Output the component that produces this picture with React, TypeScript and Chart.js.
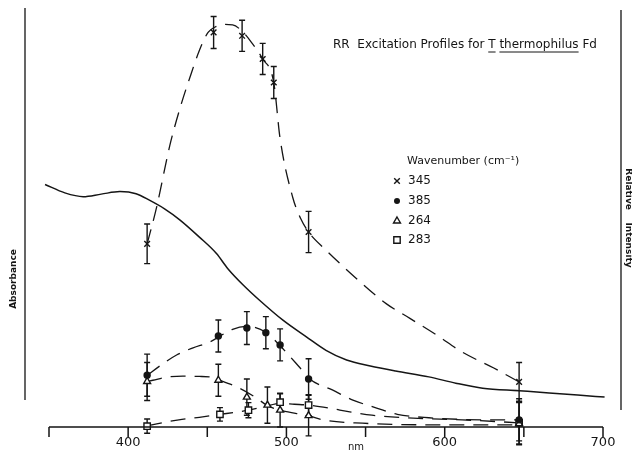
import React, { useEffect, useRef } from 'react';
import { Chart, registerables } from 'chart.js';
Chart.register(...registerables);

// ---- axis ----
const xTicks = [350, 400, 450, 500, 550, 600, 650, 700];
const xTickLabels = ['', '400', '', '500', '', '600', '', '700'];

// ---- legend ----
const wavenumbers = ['345', '385', '264', '283'];

// ---- measured points (excitation nm, relative intensity, error) ----
const exc345 = [412, 454, 472, 485, 492, 514, 647];
const int345 = [43.5, 93.7, 92.9, 87.4, 81.8, 46.3, 10.7];
const err345 = [4.7, 3.8, 3.7, 3.7, 3.8, 4.9, 4.6];

const exc385 = [412, 457, 475, 487, 496, 514, 647];
const int385 = [12.3, 21.6, 23.5, 22.4, 19.5, 11.4, 1.7];
const err385 = [5.0, 3.8, 3.9, 3.8, 3.8, 4.8, 5.0];

const exc264 = [412, 457, 475, 488, 496, 514, 647];
const int264 = [10.8, 11.1, 7.1, 5.2, 4.0, 2.7, 0.8];
const err264 = [4.5, 3.8, 4.3, 4.3, 4.0, 4.8, 5.0];

const exc283 = [412, 458, 476, 496, 514, 647];
const int283 = [0.2, 3.0, 4.0, 5.9, 5.2, 1.0];
const err283 = [1.7, 1.6, 1.8, 2.0, 2.5, 5.0];

// ---- absorbance spectrum (solid) ----
const absNm = [347.5, 360, 371.6, 383, 394.8, 405, 413.7, 423, 432.6, 445, 455.8, 463, 473, 483, 498, 512.6, 525, 538, 553, 569, 590, 607, 624, 647, 666, 684, 701];
const absVal = [57.6, 55.6, 54.7, 55.3, 55.9, 55.4, 53.8, 51.8, 49.2, 45.1, 41.2, 37.6, 33.6, 30.1, 25.3, 21.4, 18.2, 15.9, 14.5, 13.3, 11.9, 10.4, 9.2, 8.6, 8.1, 7.6, 7.1];

// ---- dashed profile fits ----
const fit345Nm = [412, 418, 426.3, 433, 439, 445.3, 450.5, 455, 460, 466, 472, 478, 485, 492, 496, 504, 509, 514, 525, 545, 563, 578, 595, 611, 631, 647];
const fit345Val = [43.5, 52.2, 66.8, 76, 83, 89.7, 93.7, 95, 95.6, 95.5, 94, 91.3, 87.4, 81.8, 68.5, 54.5, 49.5, 46.3, 42, 35, 29.3, 25.8, 21.8, 17.8, 14, 10.7];

const fit385Nm = [412.3, 420, 430.6, 441, 451.6, 466, 475, 487, 495.7, 508, 514.7, 529, 542, 557, 570, 590, 628, 647];
const fit385Val = [12.3, 14.5, 17.1, 18.8, 20.2, 23.2, 23.9, 22.5, 19.4, 14.3, 11.4, 8.8, 6.4, 4.5, 3.0, 2.2, 1.7, 1.7];

const fit264Nm = [412, 415.6, 425, 434.5, 445, 451.6, 458, 470.5, 481, 487.5, 495.7, 514, 523, 548, 603, 647];
const fit264Val = [10.8, 11.1, 11.9, 12.1, 12.0, 11.9, 11.1, 9.2, 6.9, 5.2, 4.0, 2.7, 1.7, 0.9, 0.5, 0.5];

const fit283Nm = [412, 415, 432, 445, 458, 468, 476, 486, 496, 505, 514, 527, 540, 554, 580, 611, 647];
const fit283Val = [0.2, 0.5, 1.7, 2.3, 3.0, 3.5, 4.0, 4.8, 5.6, 5.4, 5.2, 4.5, 3.6, 2.8, 2.1, 1.7, 1.0];

const INK = '#151515';

function pts(xs: number[], ys: number[]) {
  return xs.map((x, i) => ({ x, y: ys[i] }));
}

function drawSym(ctx: CanvasRenderingContext2D, kind: string, x: number, y: number) {
  ctx.save();
  ctx.strokeStyle = INK;
  ctx.fillStyle = INK;
  ctx.lineWidth = 1.4;
  ctx.beginPath();
  if (kind === 'x') {
    const r = 2.8;
    ctx.moveTo(x - r, y - r); ctx.lineTo(x + r, y + r);
    ctx.moveTo(x + r, y - r); ctx.lineTo(x - r, y + r);
    ctx.stroke();
  } else if (kind === 'dot') {
    ctx.arc(x, y, 3, 0, Math.PI * 2);
    ctx.fill();
  } else if (kind === 'tri') {
    const r = 4;
    ctx.moveTo(x, y - r);
    ctx.lineTo(x + r * 0.866, y + r / 2);
    ctx.lineTo(x - r * 0.866, y + r / 2);
    ctx.closePath();
    ctx.fillStyle = '#fff';
    ctx.fill();
    ctx.stroke();
  } else {
    const s = 3.2;
    ctx.rect(x - s, y - s, 2 * s, 2 * s);
    ctx.fillStyle = '#fff';
    ctx.fill();
    ctx.stroke();
  }
  ctx.restore();
}

const decor = {
  id: 'decor',
  beforeDatasetsDraw(chart: any) {
    const ctx: CanvasRenderingContext2D = chart.ctx;
    const xs = chart.scales.x;
    const ys = chart.scales.y;
    ctx.save();
    ctx.strokeStyle = INK;
    ctx.lineWidth = 1.4;
    chart.data.datasets.forEach((ds: any) => {
      if (!ds.errors) return;
      ds.data.forEach((p: any, i: number) => {
        const e = ds.errors[i];
        const px = xs.getPixelForValue(p.x);
        const top = ys.getPixelForValue(p.y + e);
        const bot = ys.getPixelForValue(p.y - e);
        ctx.beginPath();
        ctx.moveTo(px, top); ctx.lineTo(px, bot);
        ctx.moveTo(px - 3, top); ctx.lineTo(px + 3, top);
        ctx.moveTo(px - 3, bot); ctx.lineTo(px + 3, bot);
        ctx.stroke();
      });
    });
    ctx.restore();
  },
  afterDraw(chart: any) {
    const ctx: CanvasRenderingContext2D = chart.ctx;
    const xs = chart.scales.x;
    const ys = chart.scales.y;
    const y0 = ys.getPixelForValue(0);
    ctx.save();
    ctx.strokeStyle = INK;
    ctx.fillStyle = INK;

    // bottom axis
    ctx.lineWidth = 1.5;
    ctx.beginPath();
    ctx.moveTo(xs.getPixelForValue(xTicks[0]), y0);
    ctx.lineTo(xs.getPixelForValue(xTicks[xTicks.length - 1]), y0);
    xTicks.forEach((t) => {
      const px = xs.getPixelForValue(t);
      ctx.moveTo(px, y0);
      ctx.lineTo(px, y0 + 10);
    });
    ctx.stroke();
    ctx.font = '13px "DejaVu Sans"';
    ctx.textAlign = 'center';
    ctx.textBaseline = 'middle';
    xTicks.forEach((t, i) => {
      if (xTickLabels[i]) ctx.fillText(xTickLabels[i], xs.getPixelForValue(t), 443);
    });
    ctx.font = '10px "DejaVu Sans"';
    ctx.fillText('nm', 356, 447);

    // side frame lines
    ctx.lineWidth = 1.3;
    ctx.beginPath();
    ctx.moveTo(25, 8); ctx.lineTo(25, 400);
    ctx.moveTo(621, 10); ctx.lineTo(621, 410);
    ctx.stroke();

    // side labels
    ctx.font = 'bold 9px "DejaVu Sans"';
    ctx.save();
    ctx.translate(14, 279);
    ctx.rotate(-Math.PI / 2);
    ctx.fillText('Absorbance', 0, 0);
    ctx.restore();
    ctx.save();
    ctx.translate(628, 218);
    ctx.rotate(Math.PI / 2);
    ctx.fillText('Relative    Intensity', 0, 0);
    ctx.restore();

    // title with underlined species name
    ctx.font = '12px "DejaVu Sans"';
    ctx.textAlign = 'left';
    ctx.textBaseline = 'alphabetic';
    const parts: [string, boolean][] = [
      ['RR  Excitation Profiles for ', false],
      ['T', true],
      [' ', false],
      ['thermophilus', true],
      [' Fd', false],
    ];
    let tx = 333;
    const tb = 48;
    ctx.lineWidth = 1;
    parts.forEach(([s, u]) => {
      const w = ctx.measureText(s).width;
      ctx.fillText(s, tx, tb);
      if (u) {
        ctx.beginPath();
        ctx.moveTo(tx, tb + 4);
        ctx.lineTo(tx + w, tb + 4);
        ctx.stroke();
      }
      tx += w;
    });

    // legend
    ctx.font = '11px "DejaVu Sans"';
    ctx.textBaseline = 'middle';
    ctx.fillText('Wavenumber (cm\u207B\u00B9)', 407, 161);
    const kinds = ['x', 'dot', 'tri', 'sq'];
    const rows = [181, 201, 221, 240];
    ctx.font = '12px "DejaVu Sans"';
    wavenumbers.forEach((w, i) => {
      drawSym(ctx, kinds[i], 397, rows[i]);
      ctx.fillStyle = INK;
      ctx.fillText(w, 408, rows[i]);
    });
    ctx.restore();
  },
};

export default function App() {
  const ref = useRef<HTMLCanvasElement>(null);
  useEffect(() => {
    const canvas = ref.current!;
    const dash = [15, 9];
    const fit = (xs: number[], ys: number[]) => ({
      type: 'line' as const,
      data: pts(xs, ys),
      borderColor: INK,
      borderWidth: 1.3,
      borderDash: dash,
      pointRadius: 0,
      cubicInterpolationMode: 'monotone' as const,
      fill: false,
      clip: false as any,
      order: 5,
    });
    const marks = (xs: number[], ys: number[], errs: number[], style: string, radius: number, filled: boolean) => ({
      type: 'scatter' as const,
      data: pts(xs, ys),
      errors: errs,
      showLine: false,
      pointStyle: style,
      pointRadius: radius,
      pointBackgroundColor: filled ? INK : '#fff',
      pointBorderColor: INK,
      pointBorderWidth: 1.4,
      clip: false as any,
      order: 1,
    });
    const chart = new Chart(canvas, {
      type: 'scatter',
      data: {
        datasets: [
          {
            type: 'line',
            data: pts(absNm, absVal),
            borderColor: INK,
            borderWidth: 1.5,
            pointRadius: 0,
            cubicInterpolationMode: 'monotone',
            fill: false,
            clip: false as any,
            order: 6,
          } as any,
          fit(fit345Nm, fit345Val),
          fit(fit385Nm, fit385Val),
          fit(fit264Nm, fit264Val),
          fit(fit283Nm, fit283Val),
          marks(exc345, int345, err345, 'crossRot', 4, false),
          marks(exc385, int385, err385, 'circle', 3, true),
          marks(exc264, int264, err264, 'triangle', 4, false),
          marks(exc283, int283, err283, 'rect', 4.5, false),
        ] as any,
      },
      options: {
        animation: false,
        responsive: false,
        devicePixelRatio: 1,
        events: [],
        layout: { padding: { left: 49, right: 29, top: 5, bottom: 26 } },
        scales: {
          x: { type: 'linear', min: 350, max: 700, display: false },
          y: { type: 'linear', min: 0, max: 100, display: false },
        },
        plugins: {
          legend: { display: false },
          tooltip: { enabled: false },
          title: { display: false },
        },
      },
      plugins: [decor],
    });
    return () => chart.destroy();
  }, []);
  return (
    <div style={{ position: 'fixed', left: 0, top: 0, width: 632, height: 453, background: '#fff' }}>
      <canvas ref={ref} width={632} height={453} style={{ display: 'block' }} />
    </div>
  );
}
